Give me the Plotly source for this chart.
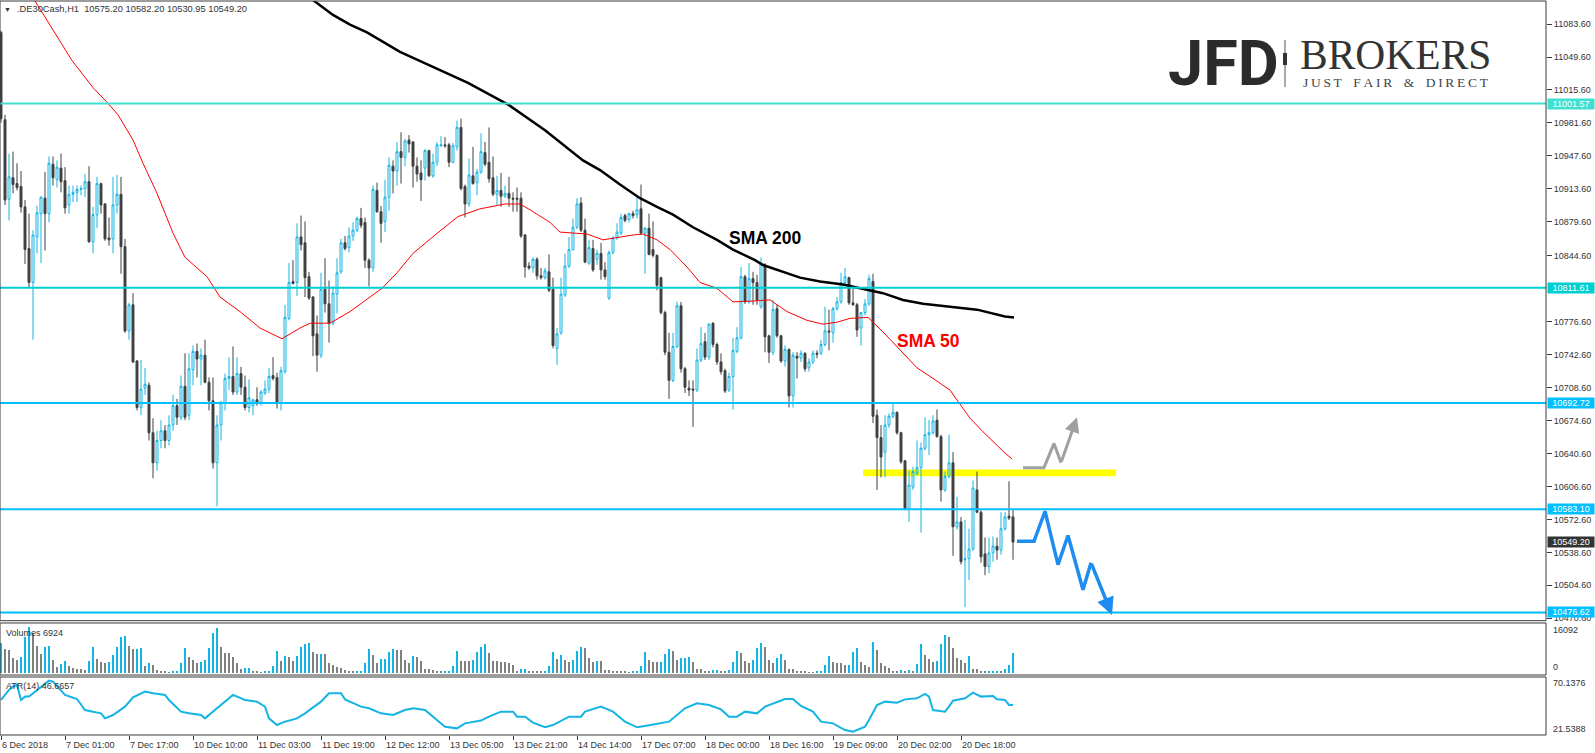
import plotly.graph_objects as go

# ---------------- data ----------------
symbol = ".DE30Cash,H1"

opens = [
    11075, 10985, 10903, 10925, 10919, 10916, 10895, 10852, 10817, 10864,
    10888, 10904, 10888, 10939, 10923, 10935, 10922, 10897, 10908, 10910,
    10913, 10914, 10921, 10859, 10887, 10919, 10898, 10863, 10862, 10897,
    10908, 10854, 10767, 10794, 10736, 10688, 10708, 10711, 10662, 10631,
    10654, 10664, 10654, 10670, 10690, 10678, 10710, 10680, 10727, 10746,
    10738, 10742, 10714, 10695, 10631, 10670, 10693, 10718, 10720, 10704,
    10723, 10709, 10688, 10690, 10696, 10692, 10703, 10707, 10721, 10719,
    10692, 10725, 10780, 10818, 10817, 10864, 10858, 10823, 10802, 10764,
    10742, 10810, 10795, 10775, 10805, 10828, 10858, 10853, 10865, 10871,
    10883, 10879, 10840, 10832, 10912, 10890, 10880, 10905, 10937, 10932,
    10952, 10946, 10964, 10962, 10937, 10930, 10935, 10953, 10927, 10941,
    10958, 10959, 10959, 10941, 10957, 10977, 10916, 10898, 10927, 10920,
    10931, 10951, 10941, 10925, 10908, 10912, 10906, 10909, 10904, 10904,
    10904, 10866, 10834, 10832, 10841, 10824, 10822, 10828, 10810, 10749,
    10765, 10804, 10834, 10851, 10874, 10899, 10871, 10837, 10852, 10841,
    10847, 10830, 10801, 10848, 10863, 10868, 10886, 10882, 10888, 10887,
    10893, 10868, 10873, 10851, 10845, 10822, 10786, 10745, 10716, 10751,
    10793, 10728, 10708, 10707, 10706, 10737, 10756, 10740, 10775, 10753,
    10735, 10726, 10706, 10720, 10746, 10760, 10823, 10797, 10821, 10817,
    10792, 10835, 10762, 10745, 10790, 10762, 10736, 10748, 10700, 10741,
    10739, 10744, 10729, 10735, 10744, 10744, 10753, 10767, 10765, 10790,
    10797, 10817, 10822, 10796, 10794, 10770, 10786, 10795, 10818, 10680,
    10657, 10642, 10670, 10679, 10683, 10662, 10633, 10584, 10606, 10620,
    10626, 10646, 10660, 10662, 10675, 10658, 10603, 10617, 10631, 10565,
    10570, 10531, 10532, 10542, 10603, 10580, 10537, 10524, 10538, 10545,
    10541, 10563, 10576, 10575.20,
]
highs = [
    11077, 10990, 10950, 10952, 10940, 10932, 10902, 10888, 10871, 10896,
    10906, 10931, 10947, 10947, 10943, 10950, 10936, 10917, 10917, 10917,
    10917, 10929, 10937, 10895, 10926, 10920, 10899, 10884, 10926, 10928,
    10926, 10862, 10796, 10806, 10737, 10737, 10729, 10714, 10677, 10664,
    10675, 10670, 10680, 10701, 10697, 10721, 10744, 10744, 10752, 10754,
    10749, 10758, 10719, 10719, 10680, 10695, 10723, 10740, 10751, 10740,
    10730, 10721, 10717, 10697, 10709, 10706, 10716, 10729, 10740, 10724,
    10730, 10794, 10837, 10840, 10878, 10886, 10880, 10828, 10803, 10783,
    10827, 10842, 10819, 10813, 10842, 10862, 10865, 10874, 10879, 10885,
    10894, 10884, 10842, 10917, 10920, 10896, 10923, 10946, 10943, 10962,
    10972, 10965, 10969, 10963, 10946, 10943, 10955, 10954, 10950, 10962,
    10968, 10967, 10961, 10961, 10984, 10986, 10918, 10945, 10957, 10934,
    10971, 10962, 10977, 10947, 10927, 10930, 10917, 10926, 10910, 10915,
    10910, 10867, 10838, 10843, 10843, 10832, 10832, 10846, 10822, 10770,
    10822, 10847, 10864, 10883, 10904, 10905, 10883, 10861, 10861, 10851,
    10858, 10838, 10850, 10865, 10878, 10888, 10888, 10889, 10891, 10905,
    10918, 10874, 10888, 10880, 10846, 10823, 10788, 10765, 10765, 10797,
    10797, 10730, 10716, 10716, 10749, 10771, 10765, 10775, 10776, 10755,
    10744, 10728, 10724, 10760, 10771, 10833, 10825, 10837, 10828, 10825,
    10843, 10837, 10763, 10799, 10794, 10763, 10752, 10749, 10745, 10745,
    10747, 10745, 10739, 10747, 10747, 10758, 10792, 10789, 10792, 10802,
    10827, 10832, 10823, 10811, 10796, 10786, 10800, 10825, 10826, 10686,
    10670, 10680, 10682, 10693, 10684, 10663, 10634, 10623, 10627, 10654,
    10652, 10678, 10675, 10680, 10686, 10660, 10622, 10660, 10642, 10596,
    10575, 10572, 10563, 10613, 10622, 10582, 10554, 10554, 10555, 10554,
    10580, 10580, 10612, 10582.20,
]
lows = [
    10982, 10897, 10881, 10909, 10912, 10889, 10836, 10812, 10758, 10847,
    10837, 10850, 10879, 10917, 10915, 10910, 10888, 10888, 10900, 10900,
    10907, 10905, 10858, 10847, 10873, 10888, 10860, 10855, 10847, 10888,
    10826, 10765, 10758, 10734, 10685, 10680, 10701, 10654, 10615, 10623,
    10646, 10646, 10649, 10664, 10670, 10675, 10675, 10675, 10711, 10719,
    10711, 10713, 10685, 10625, 10586, 10654, 10685, 10706, 10701, 10701,
    10701, 10685, 10683, 10680, 10690, 10690, 10701, 10703, 10716, 10687,
    10685, 10723, 10778, 10815, 10803, 10850, 10802, 10799, 10741, 10725,
    10739, 10786, 10755, 10773, 10785, 10826, 10850, 10848, 10860, 10869,
    10873, 10832, 10813, 10828, 10889, 10858, 10869, 10891, 10909, 10917,
    10919, 10937, 10951, 10915, 10921, 10901, 10922, 10926, 10925, 10937,
    10957, 10956, 10936, 10940, 10953, 10912, 10884, 10895, 10918, 10907,
    10929, 10937, 10920, 10906, 10897, 10895, 10904, 10895, 10890, 10890,
    10863, 10822, 10830, 10827, 10820, 10820, 10820, 10807, 10749, 10732,
    10763, 10802, 10832, 10850, 10872, 10869, 10837, 10835, 10828, 10835,
    10820, 10820, 10799, 10846, 10861, 10866, 10879, 10879, 10883, 10883,
    10866, 10826, 10845, 10843, 10809, 10784, 10742, 10697, 10714, 10749,
    10724, 10703, 10700, 10668, 10704, 10735, 10737, 10737, 10750, 10732,
    10722, 10703, 10704, 10686, 10744, 10758, 10795, 10795, 10794, 10794,
    10790, 10745, 10734, 10742, 10760, 10734, 10730, 10688, 10688, 10718,
    10735, 10725, 10725, 10733, 10739, 10742, 10751, 10747, 10755, 10788,
    10795, 10814, 10794, 10793, 10761, 10752, 10783, 10793, 10672, 10603,
    10616, 10616, 10667, 10677, 10660, 10630, 10582, 10570, 10603, 10618,
    10559, 10644, 10639, 10660, 10657, 10591, 10601, 10615, 10535, 10562,
    10526, 10482, 10510, 10540, 10579, 10528, 10515, 10517, 10529, 10531,
    10536, 10561, 10572, 10530.95,
]
closes = [
    10986, 10902, 10926, 10918, 10915, 10895, 10851, 10817, 10866, 10889,
    10905, 10888, 10940, 10925, 10936, 10921, 10894, 10908, 10910, 10913,
    10914, 10921, 10859, 10887, 10919, 10897, 10862, 10861, 10897, 10908,
    10854, 10767, 10794, 10735, 10688, 10707, 10712, 10662, 10631, 10654,
    10664, 10654, 10670, 10690, 10678, 10710, 10678, 10728, 10746, 10738,
    10742, 10714, 10695, 10631, 10670, 10693, 10718, 10720, 10704, 10723,
    10709, 10688, 10698, 10696, 10692, 10704, 10707, 10720, 10718, 10692,
    10726, 10781, 10817, 10816, 10864, 10856, 10822, 10801, 10762, 10742,
    10810, 10795, 10775, 10806, 10827, 10858, 10852, 10865, 10871, 10883,
    10876, 10840, 10832, 10913, 10890, 10878, 10905, 10938, 10932, 10952,
    10946, 10963, 10960, 10937, 10929, 10923, 10953, 10927, 10941, 10959,
    10959, 10958, 10941, 10958, 10977, 10914, 10898, 10928, 10919, 10931,
    10952, 10939, 10924, 10908, 10912, 10906, 10909, 10904, 10903, 10903,
    10865, 10833, 10832, 10841, 10824, 10822, 10829, 10809, 10752, 10764,
    10805, 10834, 10851, 10874, 10898, 10871, 10838, 10853, 10830, 10847,
    10830, 10823, 10848, 10863, 10869, 10884, 10881, 10888, 10886, 10892,
    10868, 10873, 10846, 10845, 10814, 10786, 10745, 10716, 10751, 10793,
    10728, 10709, 10706, 10706, 10737, 10754, 10740, 10774, 10753, 10735,
    10725, 10705, 10720, 10747, 10760, 10823, 10797, 10821, 10817, 10799,
    10837, 10761, 10745, 10789, 10762, 10736, 10748, 10700, 10742, 10739,
    10744, 10728, 10735, 10744, 10743, 10753, 10767, 10766, 10790, 10797,
    10817, 10823, 10796, 10794, 10768, 10786, 10795, 10821, 10679, 10657,
    10637, 10670, 10679, 10683, 10662, 10632, 10584, 10608, 10622, 10626,
    10646, 10660, 10662, 10674, 10658, 10603, 10617, 10631, 10565, 10570,
    10529, 10532, 10542, 10605, 10580, 10534, 10524, 10538, 10545, 10541,
    10563, 10575, 10574, 10549.20,
]
volumes = [
    10490, 8160, 7930, 5010, 4430, 5600, 12590, 16090, 13760, 9330,
    6530, 9090, 9330, 4430, 2100, 3030, 4080, 2330, 1520, 1280,
    1280, 930, 4080, 9090, 4900, 3850, 3500, 3600, 6180, 9090,
    12590, 12700, 9330, 8280, 8400, 8500, 2330, 3500, 2680, 930,
    700, 350, 60, 350, 360, 3260, 8630, 5600, 4430, 3500,
    3850, 4430, 8630, 13990, 15740, 9090, 7000, 6900, 5600, 3260,
    1400, 1520, 1750, 700, 350, 60, 350, 360, 2450, 7700,
    4200, 5830, 5600, 4200, 5830, 9090, 10030, 10490, 7350, 6410,
    6500, 6400, 3500, 2680, 2100, 1520, 930, 700, 470, 480,
    490, 3500, 8160, 6180, 3500, 4660, 4700, 7350, 8160, 8100,
    8000, 4430, 3260, 5830, 5600, 4080, 1170, 1170, 930, 700,
    350, 360, 370, 2330, 7700, 4200, 4080, 4000, 4430, 7350,
    8860, 9910, 6760, 4080, 4000, 3900, 3800, 3500, 2680, 700,
    1170, 1280, 700, 350, 340, 330, 350, 2330, 7350, 4660,
    6180, 4430, 3850, 4430, 7580, 8860, 8800, 5010, 3850, 4080,
    4000, 930, 920, 700, 580, 570, 470, 60, 350, 360,
    2330, 7110, 4430, 3850, 3610, 3850, 6530, 8280, 7580, 4430,
    5010, 5250, 5360, 3730, 1280, 1170, 700, 350, 930, 940,
    700, 350, 930, 3610, 7580, 6760, 4080, 3260, 4430, 8510,
    10490, 9090, 4430, 3500, 5010, 6530, 4430, 1280, 1270, 700,
    350, 340, 120, 60, 350, 360, 2680, 5830, 3610, 3500,
    3260, 2680, 2700, 7110, 8750, 3850, 2680, 2100, 10840, 7930,
    3260, 2330, 1520, 580, 570, 930, 700, 930, 580, 2920,
    9910, 6180, 4660, 3850, 4080, 9910, 13180, 12360, 8510, 5010,
    4430, 3500, 5830, 1280, 1270, 700, 350, 580, 590, 600,
    350, 1170, 2680, 6924,
]

# (bar index, value) readings of the indicator lines
sma50_points = [
    (0, 11164), (8.5, 11108), (14.75, 11067), (17.75, 11046), (23, 11018), (26.5, 11003),
    (29.25, 10990), (33, 10964), (35.5, 10940), (39, 10909), (43, 10868), (46, 10843),
    (51.5, 10823), (54.75, 10802), (59.75, 10787), (64.75, 10770), (70.25, 10759),
    (74.75, 10770), (77.25, 10775), (82.25, 10775), (87.25, 10787), (91.75, 10800),
    (95.25, 10811), (99, 10827), (103, 10847), (108.5, 10866), (114.25, 10885),
    (119.75, 10893), (126, 10898), (129.75, 10898), (132.25, 10892), (137.25, 10879),
    (139.75, 10869), (146.5, 10867), (150.5, 10861), (158, 10866), (160.5, 10867),
    (164, 10861), (167.25, 10851), (171.5, 10833), (174.75, 10817), (179, 10811),
    (183, 10797), (188.5, 10798), (192.25, 10799), (196.5, 10787), (201.5, 10778),
    (205.5, 10774), (209, 10776), (212.25, 10780), (216.75, 10781), (220.5, 10766),
    (224.75, 10747), (229, 10729), (233, 10718), (237.25, 10706), (242.25, 10677),
    (245.5, 10663), (251, 10641), (252.75, 10635),
]
sma200_points = [
    (70, 11133), (78, 11108), (83, 11093), (87.25, 11083), (91.5, 11075), (99.75, 11055),
    (109.75, 11036), (116.75, 11023), (127, 11000), (136, 10974), (145.5, 10943),
    (149.75, 10933), (154.75, 10918), (159.75, 10904), (164, 10895), (168, 10887),
    (173, 10874), (179, 10861), (183, 10851), (188.5, 10840), (190.5, 10835),
    (195.5, 10828), (199.75, 10822), (204.75, 10818), (210.5, 10815), (214.75, 10811),
    (220.5, 10806), (225.5, 10799), (230.5, 10795), (237.25, 10792), (244, 10789),
    (251, 10782), (253.25, 10781),
]
atr_points = [
    (0, 50.9), (1, 55.1), (2, 59.3), (3, 62.1), (4, 63.5), (5, 50.9), (6, 53.7), (7, 53.7),
    (8, 56.5), (10, 61.5), (12, 67.1), (13, 66.2), (15, 59.3), (16, 55.1), (19, 51.7),
    (21, 42.5), (23, 41.1), (25, 39.7), (26, 35.5), (28, 38.3), (31, 45.3), (33, 53.1),
    (36, 57.9), (38, 56.5), (41, 55.1), (42, 50.9), (45, 41.1), (47, 39.7), (50, 38.3),
    (51, 35.5), (54, 43.9), (58, 55.1), (61, 50.9), (64, 49.5), (66, 45.3), (67, 35.5),
    (69, 29.9), (71, 32.7), (74, 35.5), (76, 39.7), (80, 49.5), (82, 56.5), (85, 56.5),
    (86, 51.4), (90, 45.3), (92, 43.9), (95, 39.7), (98, 38.3), (101, 42.5), (103, 43.9),
    (106, 42.5), (108, 36.9), (111, 28.5), (114, 27.1), (116, 31.3), (120, 33.6),
    (122, 36.9), (125, 41.1), (128, 41.1), (129, 36.9), (131, 36.9), (133, 31.9),
    (136, 28.0), (138, 29.9), (141, 35.5), (142, 36.9), (145, 36.9), (146, 41.1),
    (150, 45.3), (153, 41.1), (156, 32.7), (159, 28.0), (161, 29.1), (165, 31.3),
    (167, 32.7), (171, 43.9), (174, 48.1), (177, 46.7), (180, 43.0), (182, 36.9),
    (184, 36.9), (186, 41.1), (189, 39.7), (191, 45.3), (196, 51.7), (198, 51.7),
    (200, 45.9), (203, 41.1), (205, 32.7), (208, 31.3), (211, 25.7), (213, 24.3),
    (216, 28.5), (217, 34.1), (219, 46.7), (221, 49.5), (224, 48.6), (226, 51.4),
    (229, 52.3), (231, 55.9), (232, 53.7), (233, 42.5), (236, 41.1), (237, 45.3),
    (238, 50.3), (241, 52.3), (243, 57.0), (245, 53.7), (248, 54.2), (249, 51.4),
    (251, 50.9), (252, 46.7), (253, 46.6657),
]

# horizontal levels drawn on the chart
levels = [11001.57, 10811.61, 10692.72, 10583.10, 10476.62]
level_colors = ["#40E0D0", "#00CED1", "#00BFFF", "#00BFFF", "#00BFFF"]

# yellow zone (bar index span, price span)
zone_x = [215.5, 278.75]
zone_y = [10617.2, 10624.1]

# hand-drawn scenario arrows (bar index, price)
blue_path = [(254, 10550), (258.25, 10550), (261, 10581), (264.25, 10526),
             (266.75, 10556), (270.5, 10500), (272.5, 10528), (277.75, 10474)]
grey_path = [(255.5, 10626), (260.75, 10626), (263.25, 10651), (265, 10631), (269, 10678)]

# axis labels
price_ticks = [11083.60, 11049.60, 11015.60, 10981.60, 10947.60, 10913.60, 10879.60,
               10844.60, 10776.60, 10742.60, 10708.60, 10674.60, 10640.60, 10606.60,
               10572.60, 10538.60, 10504.60, 10470.60]
date_tick_idx = [0, 16, 32, 48, 64, 80, 96, 112, 128, 144, 160, 176, 192, 208, 224, 240]
date_labels = ["6 Dec 2018", "7 Dec 01:00", "7 Dec 17:00", "10 Dec 10:00", "11 Dec 03:00",
               "11 Dec 19:00", "12 Dec 12:00", "13 Dec 05:00", "13 Dec 21:00", "14 Dec 14:00",
               "17 Dec 07:00", "18 Dec 00:00", "18 Dec 16:00", "19 Dec 09:00",
               "20 Dec 02:00", "20 Dec 18:00"]
vol_scale_labels = ["16092", "0"]
atr_scale_labels = ["70.1376", "21.5388"]
atr_value = 46.6657

# ---------------- styling / layout ----------------
FONT = "Liberation Sans, Arial, sans-serif"
CYAN = "#14B4E4"
DARK = "#404040"
GRAY = "#808080"
TXT = "#333333"

W, H = 1595, 753
ML, MR, MT, MB = 0, 49, 1, 18
PW = W - ML - MR
PH = H - MT - MB


def pxx(x):
    return (x - ML) / PW


def pxy(y):
    return (H - MB - y) / PH


n = len(opens)
idx = list(range(n))

fig = go.Figure()

fig.add_trace(go.Candlestick(
    x=idx, open=opens, high=highs, low=lows, close=closes,
    increasing=dict(line=dict(color=CYAN, width=1), fillcolor="rgba(0,0,0,0)"),
    decreasing=dict(line=dict(color=DARK, width=1), fillcolor=DARK),
    whiskerwidth=0, xaxis="x", yaxis="y", hoverinfo="skip", showlegend=False))

fig.add_trace(go.Scatter(x=[p[0] for p in sma50_points], y=[p[1] for p in sma50_points],
                         mode="lines", line=dict(color="#FF0000", width=1),
                         xaxis="x", yaxis="y", hoverinfo="skip"))
fig.add_trace(go.Scatter(x=[p[0] for p in sma200_points], y=[p[1] for p in sma200_points],
                         mode="lines", line=dict(color="#000000", width=2.5),
                         xaxis="x", yaxis="y", hoverinfo="skip"))

# scenario arrows: polyline + arrowhead on last segment
fig.add_trace(go.Scatter(x=[p[0] for p in grey_path[:-1]], y=[p[1] for p in grey_path[:-1]],
                         mode="lines", line=dict(color="#A0A0A0", width=3),
                         xaxis="x", yaxis="y", hoverinfo="skip"))
fig.add_trace(go.Scatter(x=[p[0] for p in blue_path[:-1]], y=[p[1] for p in blue_path[:-1]],
                         mode="lines", line=dict(color="#1E8CF0", width=3.5),
                         xaxis="x", yaxis="y", hoverinfo="skip"))

vol_colors = [CYAN if (i == 0 or volumes[i] > volumes[i - 1]) else GRAY for i in idx]
fig.add_trace(go.Bar(x=idx, y=volumes, width=0.72,
                     marker=dict(color=vol_colors, line=dict(width=0)),
                     xaxis="x", yaxis="y2", hoverinfo="skip"))

fig.add_trace(go.Scatter(x=[p[0] for p in atr_points], y=[p[1] for p in atr_points],
                         mode="lines", line=dict(color=CYAN, width=2),
                         xaxis="x", yaxis="y3", hoverinfo="skip"))

shapes = []
# yellow zone behind candles
shapes.append(dict(type="rect", xref="x", yref="y", x0=zone_x[0], x1=zone_x[1],
                   y0=zone_y[0], y1=zone_y[1], fillcolor="#FFFF00",
                   line=dict(width=0), layer="below"))
for lv, col in zip(levels, level_colors):
    shapes.append(dict(type="line", xref="paper", yref="y", x0=0, x1=1, y0=lv, y1=lv,
                       line=dict(color=col, width=2)))
# panel borders
main_dom = [pxy(620.7), 1.0]
vol_dom = [pxy(675), pxy(623)]
atr_dom = [0.0, pxy(677)]
for d in (main_dom, vol_dom, atr_dom):
    shapes.append(dict(type="rect", xref="paper", yref="paper", x0=0, x1=1, y0=d[0], y1=d[1],
                       line=dict(color="#3A3A3A", width=1), fillcolor="rgba(0,0,0,0)"))
# logo separator
shapes.append(dict(type="line", xref="paper", yref="paper", x0=pxx(1285), x1=pxx(1285),
                   y0=pxy(40), y1=pxy(87), line=dict(color="#555555", width=1)))
shapes.append(dict(type="rect", xref="paper", yref="paper", x0=pxx(1283), x1=pxx(1287),
                   y0=pxy(65), y1=pxy(53), line=dict(width=0), fillcolor="#333333"))

ann = []


def txt(x, y, s, size=9, color=TXT, xanchor="left", family=FONT, **kw):
    ann.append(dict(xref="paper", yref="paper", x=pxx(x), y=pxy(y), text=s,
                    showarrow=False, xanchor=xanchor, yanchor="middle",
                    font=dict(size=size, color=color, family=family), **kw))


# header
txt(7.5, 9, "▼", size=7, xanchor="center")
txt(15, 9.5, f"{symbol}\u00a0\u00a0{opens[-1]:.2f} {highs[-1]:.2f} {lows[-1]:.2f} {closes[-1]:.2f}",
    size=9.3)
txt(4, 632.6, f"Volumes {volumes[-1]}")
txt(4, 686, f"ATR(14) {atr_value:.4f}")
txt(1551, 630, vol_scale_labels[0])
txt(1551, 667, vol_scale_labels[1])
txt(1551, 683, atr_scale_labels[0])
txt(1551, 729, atr_scale_labels[1])

# logo
txt(1166, 64, "<b>JFD</b>", size=63, color="#2B2B2B", family="Roboto, Liberation Sans, sans-serif")
txt(1298, 54.5, "BROKERS", size=41.5, color="#333333", family="Liberation Serif, serif")
txt(1301, 82.5, "\u2009".join(list("JUST FAIR & DIRECT")).replace("\u2009 \u2009", "\u2009\u2009 \u2009"),
    size=13.5, color="#444444", family="Liberation Serif, serif")

# date labels
for i, lab in zip(date_tick_idx, date_labels):
    ann.append(dict(xref="x", yref="paper", x=i, y=0, yanchor="top", xanchor="left",
                    yshift=-3, xshift=-1, text=lab, showarrow=False,
                    font=dict(size=9, color=TXT, family=FONT)))

# level labels on price scale
for lv, col in zip(levels, level_colors):
    ann.append(dict(xref="paper", yref="y", x=1, y=lv, xanchor="left", yanchor="middle",
                    xshift=1, text=f"{lv:.2f}", showarrow=False, bgcolor=col, borderpad=0,
                    width=46, align="center", font=dict(size=9, color="white", family=FONT)))
ann.append(dict(xref="paper", yref="y", x=1, y=closes[-1], xanchor="left", yanchor="middle",
                xshift=1, text=f"{closes[-1]:.2f}", showarrow=False, bgcolor="#333333",
                borderpad=0, width=46, align="center",
                font=dict(size=9, color="white", family=FONT)))

# indicator captions
ann.append(dict(xref="x", yref="y", x=181.5, y=10863, xanchor="left", yanchor="middle",
                text="<b>SMA 200</b>", showarrow=False,
                font=dict(size=17.5, color="#000000", family=FONT)))
ann.append(dict(xref="x", yref="y", x=223.5, y=10757, xanchor="left", yanchor="middle",
                text="<b>SMA 50</b>", showarrow=False,
                font=dict(size=17.5, color="#FF0000", family=FONT)))

# arrowheads
for path, col, wdt in ((grey_path, "#A0A0A0", 3), (blue_path, "#1E8CF0", 3.5)):
    ann.append(dict(xref="x", yref="y", axref="x", ayref="y",
                    x=path[-1][0], y=path[-1][1], ax=path[-2][0], ay=path[-2][1],
                    text="", showarrow=True, arrowhead=2, arrowsize=1,
                    arrowwidth=wdt, arrowcolor=col, standoff=0))

fig.update_layout(
    width=W, height=H,
    margin=dict(l=ML, r=MR, t=MT, b=MB, pad=0),
    paper_bgcolor="white", plot_bgcolor="white",
    showlegend=False, boxgap=0.3, bargap=0,
    font=dict(family=FONT, size=9, color=TXT),
    xaxis=dict(range=[-0.25, -0.25 + PW / 4.0], anchor="y3", showgrid=False, zeroline=False,
               showticklabels=False, ticks="outside", ticklen=4, tickcolor="#3A3A3A",
               tickvals=date_tick_idx, rangeslider=dict(visible=False), showline=False),
    yaxis=dict(domain=main_dom, range=[10468.1, 11107.4], side="right", anchor="x",
               tickvals=price_ticks, ticktext=[f"{v:.2f}" for v in price_ticks],
               ticks="outside", ticklen=5, tickcolor="#3A3A3A",
               tickfont=dict(size=9, color=TXT, family=FONT),
               showgrid=False, zeroline=False, showline=False),
    yaxis2=dict(domain=vol_dom, range=[-805, 17387], anchor="x", showticklabels=False,
                showgrid=False, zeroline=False, ticks=""),
    yaxis3=dict(domain=atr_dom, range=[21.5388, 70.1376], anchor="x", showticklabels=False,
                showgrid=False, zeroline=False, ticks=""),
    shapes=shapes, annotations=ann,
)

fig.write_html("out.html")
